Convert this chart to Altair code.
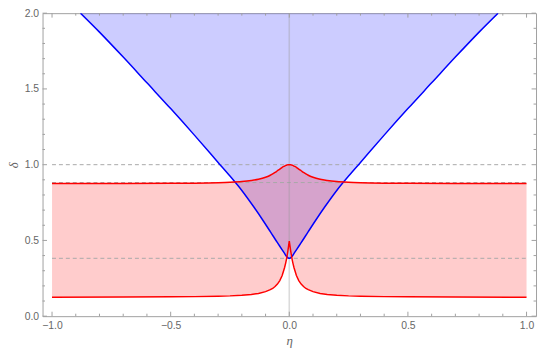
import altair as alt
import pandas as pd

# ---------------- data ----------------
ETA_RED = [-1.0, -0.7, -0.5, -0.4, -0.3, -0.25, -0.2, -0.16, -0.13, -0.1, -0.08, -0.07,
           -0.06, -0.05, -0.04, -0.03, -0.02, -0.015, -0.01, -0.006, -0.003, 0.0,
           0.003, 0.006, 0.01, 0.015, 0.02, 0.03, 0.04, 0.05, 0.06, 0.07, 0.08, 0.1,
           0.13, 0.16, 0.2, 0.25, 0.3, 0.4, 0.5, 0.7, 1.0]
RED_UPPER = [0.875, 0.876, 0.877, 0.878, 0.881, 0.884, 0.889, 0.896, 0.904, 0.917, 0.93, 0.939,
             0.949, 0.96, 0.971, 0.983, 0.991, 0.995, 0.998, 0.999, 1.0, 1.0,
             1.0, 0.999, 0.998, 0.995, 0.991, 0.983, 0.971, 0.96, 0.949, 0.939, 0.93, 0.917,
             0.904, 0.896, 0.889, 0.884, 0.881, 0.878, 0.877, 0.876, 0.875]
RED_LOWER = [0.125, 0.126, 0.128, 0.129, 0.132, 0.134, 0.138, 0.143, 0.15, 0.162, 0.175, 0.183,
             0.196, 0.212, 0.235, 0.268, 0.32, 0.352, 0.39, 0.43, 0.462, 0.495,
             0.462, 0.43, 0.39, 0.352, 0.32, 0.268, 0.235, 0.212, 0.196, 0.183, 0.175, 0.162,
             0.15, 0.143, 0.138, 0.134, 0.132, 0.129, 0.128, 0.126, 0.125]

ETA_BLUE = [-0.88, -0.8, -0.7, -0.6, -0.5, -0.4, -0.3, -0.25, -0.2, -0.15, -0.11, -0.08,
            -0.05, -0.03, -0.02, -0.015, -0.01, -0.005, 0.0, 0.005, 0.01, 0.015, 0.02,
            0.03, 0.05, 0.08, 0.11, 0.15, 0.2, 0.25, 0.3, 0.4, 0.5, 0.6, 0.7, 0.8, 0.88]
BLUE_EDGE = [2.0, 1.875, 1.71, 1.54, 1.37, 1.195, 1.015, 0.925, 0.83, 0.722, 0.63, 0.558,
             0.485, 0.438, 0.414, 0.402, 0.392, 0.385, 0.382, 0.385, 0.392, 0.402, 0.414,
             0.438, 0.485, 0.558, 0.63, 0.722, 0.83, 0.925, 1.015, 1.195, 1.37, 1.54, 1.71,
             1.875, 2.0]

REF_LEVELS = [1.0, 0.882, 0.382]
REF_FROM = -1.0
REF_TO = 1.0

X_MAJOR = [-1.0, -0.5, 0.0, 0.5, 1.0]
X_MINOR = [-0.9, -0.8, -0.7, -0.6, -0.4, -0.3, -0.2, -0.1,
           0.1, 0.2, 0.3, 0.4, 0.6, 0.7, 0.8, 0.9]
Y_MAJOR = [0.0, 0.5, 1.0, 1.5, 2.0]
Y_MINOR = [0.1, 0.2, 0.3, 0.4, 0.6, 0.7, 0.8, 0.9,
           1.1, 1.2, 1.3, 1.4, 1.6, 1.7, 1.8, 1.9]

# ---------------- layout / style ----------------
W, H = 500, 307
FRAME = "#a0a0a0"
LABEL = "#666666"
MAJ, MIN = 4.5, 2.5

xs = alt.Scale(domain=[-1.04, 1.04], nice=False, zero=False)
ys = alt.Scale(domain=[0, 2], nice=False, zero=False)

X_AX = alt.Axis(values=X_MAJOR, format=".1f", title="η",
                titleY=25, titleX=W / 2, titleBaseline="middle",
                titleAlign="center", labelPadding=5)
Y_AX = alt.Axis(values=Y_MAJOR, format=".1f", title="δ",
                titleX=-29, titleY=H / 2, titleAngle=270,
                titleBaseline="middle", titleAlign="center", labelPadding=4)

red = pd.DataFrame({"eta": ETA_RED, "lo": RED_LOWER, "hi": RED_UPPER})
blue = pd.DataFrame({"eta": ETA_BLUE, "d": BLUE_EDGE})
refs = pd.DataFrame({"lvl": REF_LEVELS, "a": [REF_FROM] * len(REF_LEVELS),
                     "b": [REF_TO] * len(REF_LEVELS)})
zero_axis = pd.DataFrame({"eta": [0.0]})


def XN(f="eta"):
    return alt.X(f"{f}:Q", scale=xs, axis=X_AX)


def YN(f):
    return alt.Y(f"{f}:Q", scale=ys, axis=Y_AX)


blue_area = alt.Chart(blue).mark_area(color="#0000ff", opacity=0.2, clip=True,
                                      interpolate="monotone").encode(
    x=XN(), y=YN("d"), y2=alt.Y2(datum=2))
red_area = alt.Chart(red).mark_area(color="#ff0000", opacity=0.2, clip=True).encode(
    x=XN(), y=YN("lo"), y2="hi:Q")

ref_lines = alt.Chart(refs).mark_rule(color="#a8a8a8", strokeWidth=1,
                                      strokeDash=[4, 3]).encode(
    x=XN("a"), x2="b:Q", y=YN("lvl"))

zero_line = alt.Chart(zero_axis).mark_rule(color="#999999", opacity=0.35,
                                           strokeWidth=1.6).encode(
    x=XN(), y=alt.value(0), y2=alt.value(H))

blue_line = alt.Chart(blue).mark_line(color="#0000ff", strokeWidth=1.5, clip=True,
                                      interpolate="monotone").encode(
    x=XN(), y=YN("d"))
red_hi = alt.Chart(red).mark_line(color="#ff0000", strokeWidth=1.5, clip=True,
                                  interpolate="monotone").encode(
    x=XN(), y=YN("hi"))
red_lo = alt.Chart(red).mark_line(color="#ff0000", strokeWidth=1.5, clip=True).encode(
    x=XN(), y=YN("lo"))


# inward frame ticks
def xticks(vals, length):
    d = pd.DataFrame({"eta": vals})
    bot = alt.Chart(d).mark_rule(color=FRAME, strokeWidth=1).encode(
        x=XN(), y=alt.value(H), y2=alt.value(H - length))
    top = alt.Chart(d).mark_rule(color=FRAME, strokeWidth=1).encode(
        x=XN(), y=alt.value(0), y2=alt.value(length))
    return [bot, top]


def yticks(vals, length):
    d = pd.DataFrame({"v": vals})
    lef = alt.Chart(d).mark_rule(color=FRAME, strokeWidth=1).encode(
        y=YN("v"), x=alt.value(0), x2=alt.value(length))
    rig = alt.Chart(d).mark_rule(color=FRAME, strokeWidth=1).encode(
        y=YN("v"), x=alt.value(W), x2=alt.value(W - length))
    return [lef, rig]


layers = [blue_area, red_area, ref_lines, zero_line, blue_line, red_hi, red_lo]
layers += xticks(X_MAJOR, MAJ) + xticks(X_MINOR, MIN)
layers += yticks(Y_MAJOR, MAJ) + yticks(Y_MINOR, MIN)

chart = alt.layer(*layers).properties(
    width=W, height=H,
    autosize=alt.AutoSizeParams(type="none"),
    padding={"left": 35, "top": 3, "right": 2, "bottom": 30},
).configure_view(
    stroke=FRAME, strokeWidth=1
).configure_axis(
    grid=False, ticks=False, domain=False,
    labelFont="Liberation Sans", labelFontSize=10.5, labelColor=LABEL,
    titleFont="Liberation Serif", titleFontStyle="italic", titleFontWeight="normal",
    titleFontSize=13, titleColor=LABEL,
)

chart.save("out.html", embed_options={"renderer": "svg", "actions": False})
